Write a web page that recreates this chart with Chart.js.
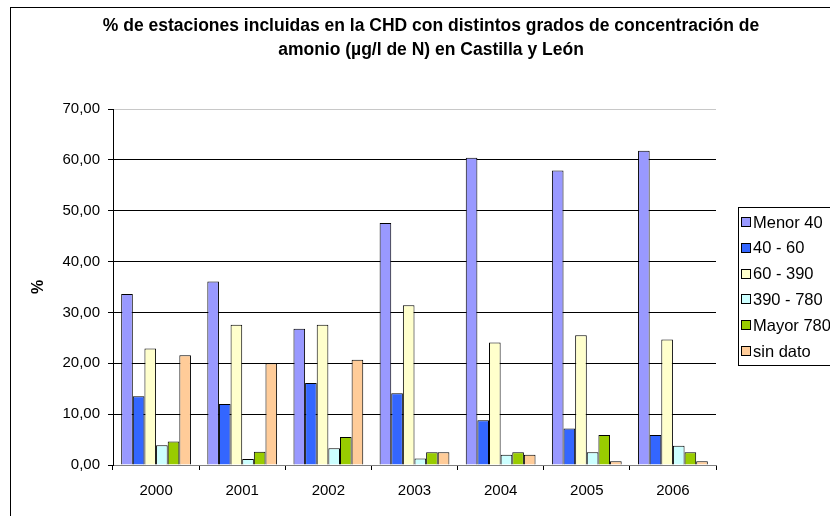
<!DOCTYPE html>
<html>
<head>
<meta charset="utf-8">
<script src="https://cdn.jsdelivr.net/npm/chart.js@4.4.1/dist/chart.umd.min.js"></script>
<style>
  html, body { margin: 0; padding: 0; background: #fff; overflow: hidden; }
  canvas { display: block; }
</style>
</head>
<body>
<canvas id="chart" width="862" height="540"></canvas>
<script>
const years = ["2000", "2001", "2002", "2003", "2004", "2005", "2006"];

const menor40 = [33.6, 36.1, 26.8, 47.6, 60.4, 57.9, 61.8];
const de40a60 = [13.5, 12.0, 16.1, 14.1, 8.8, 7.2, 5.9];
const de60a390 = [22.9, 27.6, 27.6, 31.4, 24.1, 25.5, 24.7];
const de390a780 = [3.9, 1.2, 3.3, 1.3, 2.0, 2.5, 3.8];
const mayor780 = [4.6, 2.6, 5.5, 2.5, 2.5, 5.9, 2.5];
const sinDato = [21.6, 20.0, 20.7, 2.5, 2.0, 0.75, 0.75];

const titleLines = [
  "% de estaciones incluidas en la CHD con distintos grados de concentración de",
  "amonio (µg/l de N) en Castilla y León",
];

const font = "Arial, 'Liberation Sans', sans-serif";

const makeSet = (label, data, color) => ({
  label,
  data,
  backgroundColor: color,
  borderColor: "#000",
  borderWidth: 1,
  categoryPercentage: 0.81,
  barPercentage: 1,
});

// frame, title and legend box like the Excel original
const excelLook = {
  id: "excelLook",
  beforeDraw(chart) {
    const ctx = chart.ctx;
    ctx.save();
    ctx.fillStyle = "#fff";
    ctx.fillRect(0, 0, chart.width, chart.height);
    ctx.strokeStyle = "#000";
    ctx.lineWidth = 1;
    ctx.strokeRect(10.5, 7.5, 900, 700);
    ctx.restore();
  },
  afterDraw(chart) {
    const ctx = chart.ctx;
    ctx.save();
    ctx.fillStyle = "#000";
    ctx.textAlign = "center";
    ctx.textBaseline = "middle";
    ctx.font = "bold 17.5px " + font;
    titleLines.forEach((line, i) => {
      ctx.fillText(line, 431, 26 + i * 24);
    });

    // legend
    ctx.strokeStyle = "#000";
    ctx.strokeRect(738.5, 207.5, 200, 158);
    ctx.font = "16.5px " + font;
    ctx.textAlign = "left";
    chart.data.datasets.forEach((ds, i) => {
      const y = 222 + i * 25.8;
      ctx.fillStyle = ds.backgroundColor;
      ctx.fillRect(741, Math.round(y) - 4, 9, 9);
      ctx.strokeRect(741.5, Math.round(y) - 4.5, 9, 9);
      ctx.fillStyle = "#000";
      ctx.fillText(ds.label, 753, y + 1);
    });
    ctx.restore();
  },
};

new Chart(document.getElementById("chart"), {
  type: "bar",
  data: {
    labels: years,
    datasets: [
      makeSet("Menor 40", menor40, "#9999FF"),
      makeSet("40 - 60", de40a60, "#3366FF"),
      makeSet("60 - 390", de60a390, "#FFFFCC"),
      makeSet("390 - 780", de390a780, "#CCFFFF"),
      makeSet("Mayor 780", mayor780, "#99CC00"),
      makeSet("sin dato", sinDato, "#FFCC99"),
    ],
  },
  options: {
    responsive: false,
    animation: false,
    layout: {
      padding: { top: 109, left: 0, right: 146, bottom: 35 },
    },
    plugins: {
      legend: { display: false },
      title: { display: false },
      tooltip: { enabled: false },
    },
    scales: {
      x: {
        afterFit: (scale) => {
          scale.height = 40;
        },
        border: { color: "#808080", width: 1 },
        grid: {
          offset: true,
          drawOnChartArea: false,
          color: "#000",
          tickLength: 5,
        },
        ticks: {
          color: "#000",
          font: { family: font, size: 15 },
          padding: 12,
        },
      },
      y: {
        min: 0,
        max: 70,
        afterFit: (scale) => {
          scale.width = 113;
        },
        border: { color: "#000", width: 1 },
        grid: {
          color: (c) => (c.tick.value === 70 ? "#c8c8c8" : "#000"),
          tickColor: "#000",
          tickLength: 5,
        },
        ticks: {
          stepSize: 10,
          color: "#000",
          font: { family: font, size: 15 },
          padding: 8,
          callback: (v) => v.toFixed(2).replace(".", ","),
        },
        title: {
          display: true,
          text: "%",
          color: "#000",
          font: { family: font, size: 16, weight: "bold" },
          padding: { top: 29, bottom: 0 },
        },
      },
    },
  },
  plugins: [excelLook],
});
</script>
</body>
</html>
